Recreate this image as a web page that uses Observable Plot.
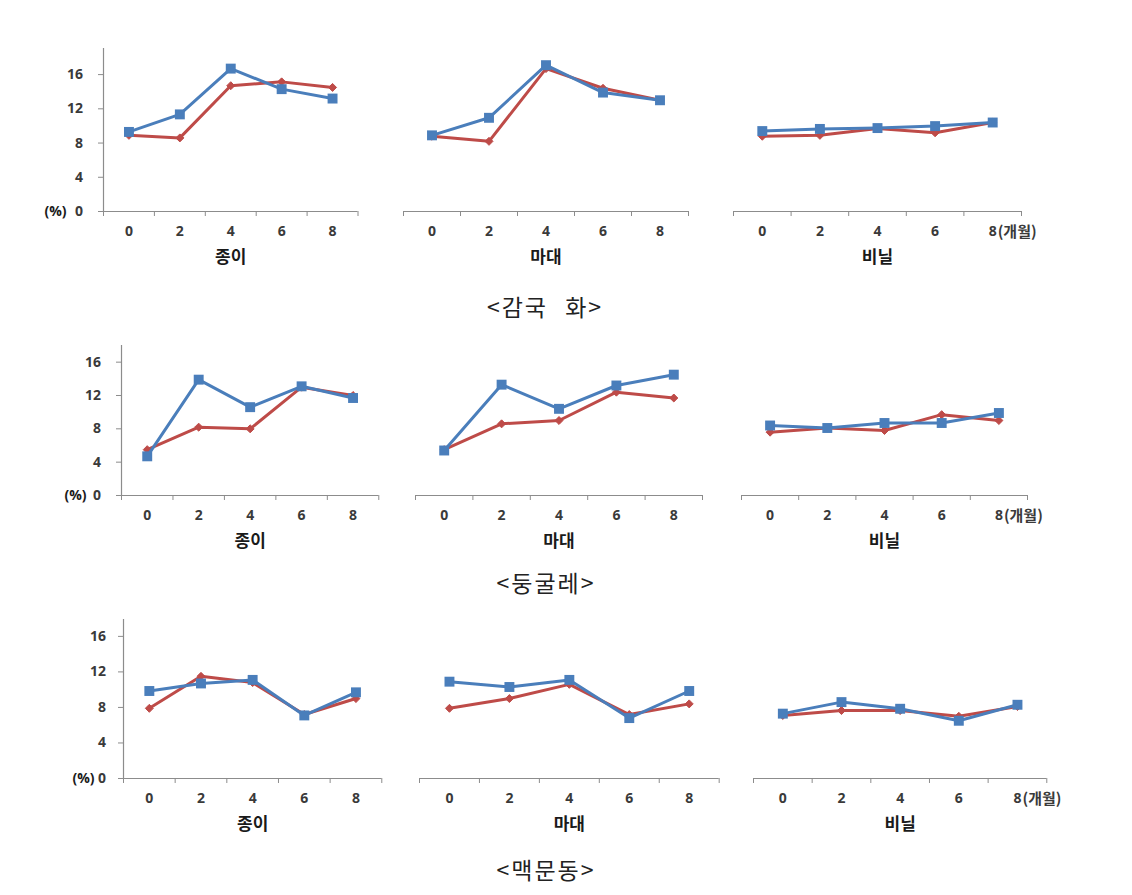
<!DOCTYPE html>
<html>
<head>
<meta charset="utf-8">
<script src="https://cdn.jsdelivr.net/npm/d3@7"></script>
<script src="https://cdn.jsdelivr.net/npm/@observablehq/plot@0.6"></script>
<style>
  html, body { margin: 0; padding: 0; background: #fff; }
  #chart { position: relative; width: 1132px; height: 895px; overflow: hidden; background: #fff; }
  .panel { position: absolute; }
  .title {
    position: absolute; transform: translate(-50%, -50%);
    font-family: "Noto Sans CJK KR", sans-serif; font-size: 23px; font-weight: 400;
    color: #222; white-space: pre; letter-spacing: 2px; word-spacing: 10px;
  }
</style>
</head>
<body>
<div id="chart"></div>
<script>
// ---------------- DATA ----------------
const months = [0, 2, 4, 6, 8];
const packaging = ["종이", "마대", "비닐"];
const cropNames = ["<감국 화>", "<둥굴레>", "<맥문동>"];
const yTicks = [0, 4, 8, 12, 16];
const pctLabel = "(%)";
const monthUnit = "(개월)";

// 감국화 (blue = square series, red = diamond series)
const gamgukBluePaper = [9.3, 11.35, 16.7, 14.3, 13.2];
const gamgukRedPaper  = [8.9, 8.6, 14.7, 15.15, 14.5];
const gamgukBlueMadae = [8.9, 10.95, 17.1, 13.9, 13.0];
const gamgukRedMadae  = [8.8, 8.2, 16.7, 14.4, 13.0];
const gamgukBlueVinyl = [9.4, 9.65, 9.75, 9.98, 10.4];
const gamgukRedVinyl  = [8.8, 8.9, 9.7, 9.2, 10.4];

// 둥굴레
const dungBluePaper = [4.7, 13.9, 10.6, 13.1, 11.7];
const dungRedPaper  = [5.5, 8.2, 8.0, 13.0, 12.0];
const dungBlueMadae = [5.4, 13.3, 10.4, 13.2, 14.5];
const dungRedMadae  = [5.5, 8.6, 9.0, 12.4, 11.7];
const dungBlueVinyl = [8.4, 8.1, 8.7, 8.7, 9.9];
const dungRedVinyl  = [7.6, 8.1, 7.8, 9.7, 9.0];

// 맥문동
const maekBluePaper = [9.85, 10.7, 11.1, 7.1, 9.7];
const maekRedPaper  = [7.9, 11.5, 10.8, 7.2, 9.0];
const maekBlueMadae = [10.9, 10.3, 11.1, 6.8, 9.85];
const maekRedMadae  = [7.9, 9.0, 10.6, 7.2, 8.4];
const maekBlueVinyl = [7.3, 8.6, 7.85, 6.5, 8.3];
const maekRedVinyl  = [7.1, 7.65, 7.65, 7.0, 8.1];

const blueSeries = [
  [gamgukBluePaper, gamgukBlueMadae, gamgukBlueVinyl],
  [dungBluePaper, dungBlueMadae, dungBlueVinyl],
  [maekBluePaper, maekBlueMadae, maekBlueVinyl]
];
const redSeries = [
  [gamgukRedPaper, gamgukRedMadae, gamgukRedVinyl],
  [dungRedPaper, dungRedMadae, dungRedVinyl],
  [maekRedPaper, maekRedMadae, maekRedVinyl]
];

// ---------------- LAYOUT / STYLE ----------------
const layout = [
  {titleX: 545, titleY: 306, top: 48, base: 211, ymax: 19.05, yPad: 15.5, pctEnd: 37,
   xr: [[102.5, 357], [403, 688], [733, 1021]]},
  {titleX: 546, titleY: 582, top: 345, base: 495, ymax: 18.0, yPad: 15.5, pctEnd: 35,
   xr: [[120.7, 378], [415, 702], [740.7, 1026.7]]},
  {titleX: 546, titleY: 869, top: 619, base: 778, ymax: 17.9, yPad: 12.5, pctEnd: 29,
   xr: [[122.7, 381], [419.3, 719], [752.7, 1046]]}
];
const BLUE = "#4a7ebb", RED = "#be4b48", AXIS = "#8c8c8c", TXT = "#3a3a3a";
const FONT = '"Noto Sans CJK KR", "Noto Sans", sans-serif';
const NUMFONT = '"Open Sans", "Noto Sans", sans-serif';

const chart = document.getElementById("chart");

function drawPanel(r, p) {
  const L = layout[r];
  const [x0, x1] = L.xr[p];
  const ml = p === 0 ? 80 : 10, mr = p === 2 ? 70 : 10, mt = 4, mb = 62;
  const W = x1 - x0, H = L.base - L.top;
  const lo = months[0] - 1, hi = months[months.length - 1] + 1;
  const bounds = d3.range(lo, hi + 1, 2);
  const blue = months.map((m, i) => ({month: m, value: blueSeries[r][p][i]}));
  const red = months.map((m, i) => ({month: m, value: redSeries[r][p][i]}));

  const marks = [
    Plot.ruleY([0], {stroke: AXIS, strokeWidth: 1.2}),
    Plot.axisX({ticks: bounds, tickSize: 5, tickFormat: () => "", stroke: AXIS, label: null}),
    Plot.axisX({ticks: months, tickSize: 0, tickPadding: 15, fill: TXT, fontSize: 14, fontWeight: "bold", fontFamily: NUMFONT, label: null}),
    Plot.text([packaging[p]], {frameAnchor: "bottom", lineAnchor: "middle", dy: 46, fontSize: 17, fontWeight: "bold", fill: "#1a1a1a"})
  ];
  if (p === 0) {
    marks.unshift(Plot.ruleX([lo], {y1: 0, y2: L.ymax, stroke: AXIS, strokeWidth: 1.2}));
    marks.push(Plot.axisY({ticks: yTicks, tickSize: 5, tickPadding: L.yPad, stroke: AXIS, fill: TXT, fontSize: 14, fontWeight: "bold", fontFamily: NUMFONT, label: null}));
    marks.push(Plot.text([pctLabel], {y: () => 0, frameAnchor: "left", lineAnchor: "middle", dx: -L.pctEnd, textAnchor: "end", fontSize: 14, fontWeight: "bold", fontFamily: NUMFONT, fill: "#1a1a1a"}));
  }
  if (p === 2) {
    marks.push(Plot.text([monthUnit], {x: () => months[months.length - 1], frameAnchor: "bottom", lineAnchor: "middle", dx: 5, dy: 21, textAnchor: "start", fontSize: 15, fontWeight: "bold", fill: TXT}));
  }
  marks.push(
    Plot.line(red, {x: "month", y: "value", stroke: RED, strokeWidth: 3}),
    Plot.dot(red, {x: "month", y: "value", symbol: "diamond2", r: 3.6, fill: RED, stroke: RED, strokeWidth: 1}),
    Plot.line(blue, {x: "month", y: "value", stroke: BLUE, strokeWidth: 3}),
    Plot.dot(blue, {x: "month", y: "value", symbol: "square", r: 5.6, fill: BLUE})
  );

  const svg = Plot.plot({
    width: W + ml + mr,
    height: H + mt + mb,
    marginLeft: ml, marginRight: mr, marginTop: mt, marginBottom: mb,
    x: {type: "linear", domain: [lo, hi], label: null},
    y: {domain: [0, L.ymax], label: null, axis: p === 0 ? undefined : null},
    style: {fontFamily: FONT, fontSize: "13px", background: "transparent", overflow: "visible", color: TXT},
    marks
  });
  svg.classList.add("panel");
  svg.style.left = (x0 - ml) + "px";
  svg.style.top = (L.top - mt) + "px";
  svg.style.position = "absolute";
  svg.style.maxWidth = "none";
  chart.appendChild(svg);
}

layout.forEach((L, r) => {
  for (let p = 0; p < 3; p++) drawPanel(r, p);
  const t = document.createElement("div");
  t.className = "title";
  t.textContent = cropNames[r];
  t.style.left = L.titleX + "px";
  t.style.top = L.titleY + "px";
  chart.appendChild(t);
});
</script>
</body>
</html>
